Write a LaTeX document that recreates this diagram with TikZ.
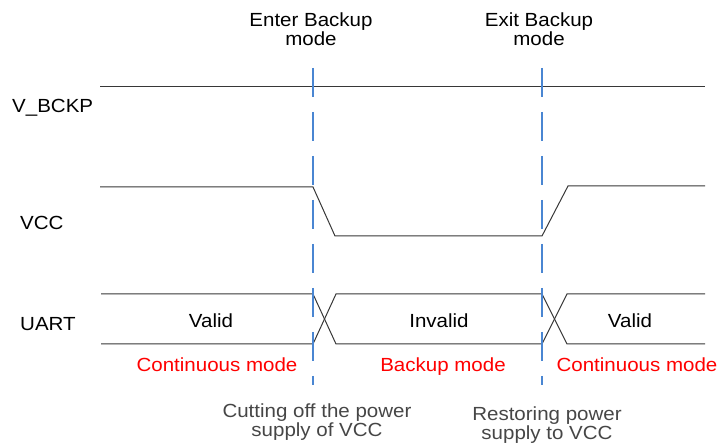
\documentclass[tikz,border=0pt]{standalone}
\usepackage{fontspec}
\setmainfont{Liberation Sans}[FakeStretch=1.08]
\usetikzlibrary{positioning}
\tikzset{every node/.append style={align=center}}
\definecolor{sigcol}{RGB}{55,55,55}
\definecolor{markcol}{RGB}{74,134,210}
\definecolor{modecol}{RGB}{255,0,0}
\definecolor{notecol}{RGB}{70,70,70}

\begin{document}
\begin{tikzpicture}[x=1pt,y=-1pt,
  lbl/.style={font=\fontsize{19}{19.5}\selectfont, inner sep=0pt},
  sig/.style={sigcol, line width=1pt},
  marker/.style={markcol, line width=1.5pt, dash pattern=on 29pt off 15pt}]
\useasboundingbox (0,0) rectangle (718,443);

% ── Signal names ─────────────────────────────────────────────────────────────
\node[lbl, anchor=base west] (vbckp) at (12,113) {V\_BCKP};
\node[lbl, anchor=base west] (vcc)   at (20,230) {VCC};
\node[lbl, anchor=base west] (uart)  at (20,331) {UART};

% ── Event labels on top ──────────────────────────────────────────────────────
\node[lbl] (enter) at (311,29) {Enter Backup\\mode};
\node[lbl] (exit)  at (539,29) {Exit Backup\\mode};

% ── Waveforms ────────────────────────────────────────────────────────────────
\draw[sig] (100,87) -- (705,87);
\draw[sig] (100,187) -- (313,187) -- (335,236) -- (542,236)
           -- (568,186) -- (705,186);
\draw[sig] (101,294) -- (313,294) -- (336,344) -- (542,344)
           -- (567,294) -- (705,294);
\draw[sig] (101,344) -- (313,344) -- (336,294) -- (542,294)
           -- (567,344) -- (705,344);

% UART states
\foreach \n/\xs/\txt in {st1/211/Valid, st2/439/Invalid, st3/630/Valid} {
  \node[lbl, anchor=base] (\n) at (\xs,328) {\txt};
}

% ── Backup switch markers ────────────────────────────────────────────────────
\foreach \xm in {313,542} {
  \draw[marker] (\xm,68) -- (\xm,385);
}

% Modes
\foreach \n/\xs/\txt in {md1/217/Continuous mode, md2/443/Backup mode,
                         md3/637/Continuous mode} {
  \node[lbl, modecol, anchor=base] (\n) at (\xs,372) {\txt};
}

% ── Notes below ──────────────────────────────────────────────────────────────
\node[lbl, notecol] (cut)     at (317,422) {Cutting off the power\\supply of VCC};
\node[lbl, notecol] (restore) at (547,425) {Restoring power\\supply to VCC};

\end{tikzpicture}
\end{document}
